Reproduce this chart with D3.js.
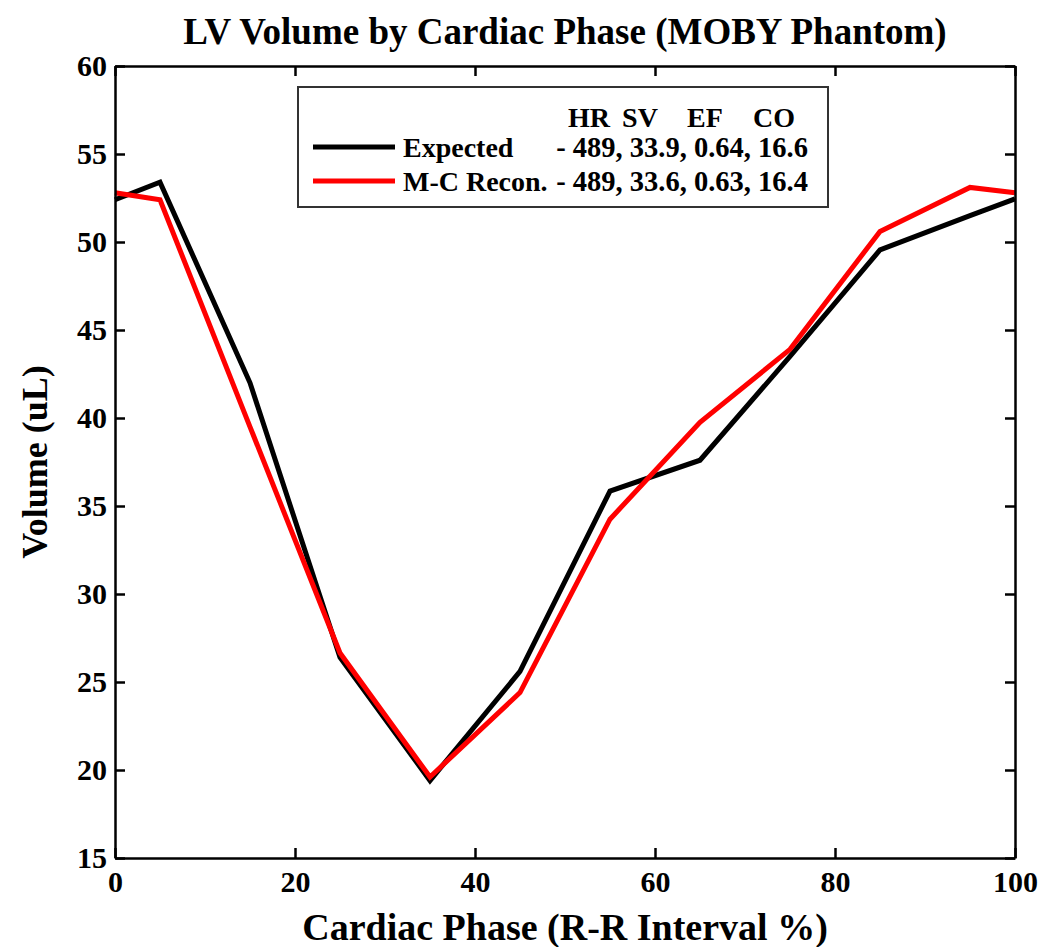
<!DOCTYPE html>
<meta charset="utf-8">
<html>
<head>
<title>LV Volume by Cardiac Phase</title>
<style>
  body { margin: 0; background: #fff; }
  text { font-family: "Liberation Serif", "Times New Roman", serif; font-weight: bold; }
  .axis path, .axis line { stroke: #000; stroke-width: 2.5px; }
  .axis text { font-size: 30px; fill: #000; }
</style>
</head>
<body>
<script src="https://d3js.org/d3.v7.min.js"></script>
<script>
// cardiac phase (% of R-R interval)
var phase = [0, 5, 15, 25, 35, 45, 55, 65, 75, 85, 95, 100];
// LV volume (uL)
var expected = [52.4, 53.4, 42.0, 26.4, 19.4, 25.6, 35.85, 37.6, 43.5, 49.55, 51.5, 52.45];
var recon    = [52.8, 52.4, 39.5, 26.65, 19.6, 24.4, 34.25, 39.75, 43.9, 50.6, 53.1, 52.8];
var xTicks = [0, 20, 40, 60, 80, 100];
var yTicks = [15, 20, 25, 30, 35, 40, 45, 50, 55, 60];
var legendHeader = ["HR", "SV", "EF", "CO"];
var legendRows = [
  { name: "Expected", stats: "- 489, 33.9, 0.64, 16.6", color: "#000" },
  { name: "M-C Recon.", stats: "- 489, 33.6, 0.63, 16.4", color: "#f00" }
];

var W = 1052, H = 947;
var m = { left: 115, right: 1015, top: 66, bottom: 858 };

var svg = d3.select("body").append("svg").attr("width", W).attr("height", H);

var x = d3.scaleLinear().domain([0, 100]).range([m.left, m.right]);
var y = d3.scaleLinear().domain([15, 60]).range([m.bottom, m.top]);

// lines first, axes drawn on top
var line = d3.line().x(function (d) { return x(d[0]); }).y(function (d) { return y(d[1]); });

svg.append("path")
  .datum(d3.zip(phase, expected))
  .attr("d", line)
  .attr("fill", "none").attr("stroke", "#000").attr("stroke-width", 5);

svg.append("path")
  .datum(d3.zip(phase, recon))
  .attr("d", line)
  .attr("fill", "none").attr("stroke", "#f00").attr("stroke-width", 5);

// axes, ticks pointing inwards
svg.append("g").attr("class", "axis")
  .attr("transform", "translate(0," + m.bottom + ")")
  .call(d3.axisBottom(x).tickValues(xTicks).tickSize(-10).tickPadding(8).tickSizeOuter(0))
  .selectAll("text").attr("dy", "0.85em");

svg.append("g").attr("class", "axis")
  .attr("transform", "translate(" + m.left + ",0)")
  .call(d3.axisLeft(y).tickValues(yTicks).tickSize(-10).tickPadding(8).tickSizeOuter(0));

svg.append("g").attr("class", "axis")
  .attr("transform", "translate(0," + m.top + ")")
  .call(d3.axisTop(x).tickValues(xTicks).tickSize(-10).tickFormat("").tickSizeOuter(0));

svg.append("g").attr("class", "axis")
  .attr("transform", "translate(" + m.right + ",0)")
  .call(d3.axisRight(y).tickValues(yTicks).tickSize(-10).tickFormat("").tickSizeOuter(0));

// title and axis labels
svg.append("text")
  .attr("x", 565).attr("y", 44)
  .attr("text-anchor", "middle")
  .style("font-size", "37px")
  .text("LV Volume by Cardiac Phase (MOBY Phantom)");

svg.append("text")
  .attr("x", 565).attr("y", 940)
  .attr("text-anchor", "middle")
  .style("font-size", "38px")
  .text("Cardiac Phase (R-R Interval %)");

svg.append("text")
  .attr("transform", "translate(47,462) rotate(-90)")
  .attr("text-anchor", "middle")
  .style("font-size", "36px")
  .text("Volume (uL)");

// legend
var lg = svg.append("g");
lg.append("rect")
  .attr("x", 298).attr("y", 87).attr("width", 530).attr("height", 120)
  .attr("fill", "#fff").attr("stroke", "#333").attr("stroke-width", 2);

var headX = [589, 640, 705, 774];
legendHeader.forEach(function (h, i) {
  lg.append("text")
    .attr("x", headX[i]).attr("y", 127)
    .attr("text-anchor", "middle")
    .style("font-size", "28px")
    .text(h);
});

legendRows.forEach(function (r, i) {
  var yy = 147 + i * 34;
  lg.append("line")
    .attr("x1", 313).attr("x2", 395).attr("y1", yy).attr("y2", yy)
    .attr("stroke", r.color).attr("stroke-width", 5);
  lg.append("text")
    .attr("x", 403).attr("y", yy + 10)
    .style("font-size", "28px")
    .text(r.name);
  lg.append("text")
    .attr("x", 808).attr("y", yy + 10)
    .attr("text-anchor", "end")
    .style("font-size", "28.5px")
    .text(r.stats);
});
</script>
</body>
</html>
